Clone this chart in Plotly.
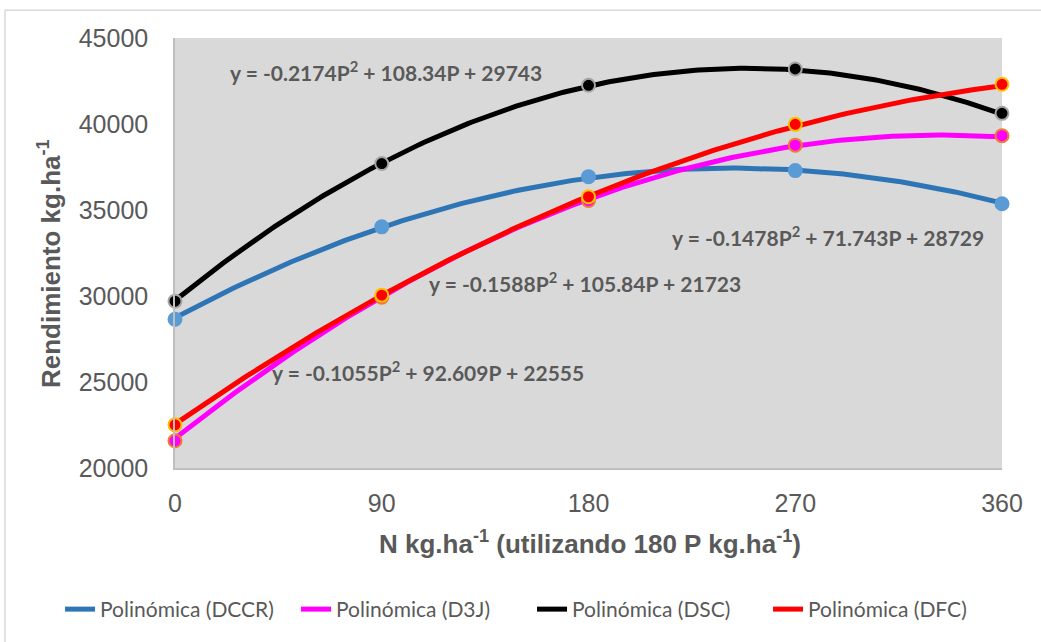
import numpy as np
import plotly.graph_objects as go

# Nitrogen doses (kg/ha), shared x categories
n_doses = [0, 90, 180, 270, 360]
x_ticks = [0, 90, 180, 270, 360]
y_ticks = [20000, 25000, 30000, 35000, 40000, 45000]

# Observed yields (kg/ha) per treatment
yield_dccr = [28650, 34020, 36940, 37290, 35360]
yield_d3j = [21580, 29930, 35550, 38770, 39320]
yield_dsc = [29700, 37700, 42250, 43200, 40620]
yield_dfc = [22510, 30050, 35770, 39980, 42310]

# Second-order trendline coefficients [a, b, c] for y = aP^2 + bP + c
coef_dccr = [-0.1478, 71.743, 28729]
coef_d3j = [-0.1588, 105.84, 21723]
coef_dsc = [-0.2174, 108.34, 29743]
coef_dfc = [-0.1055, 92.609, 22555]

names = ["DCCR", "D3J", "DSC", "DFC"]
yields = [yield_dccr, yield_d3j, yield_dsc, yield_dfc]
coefs = [coef_dccr, coef_d3j, coef_dsc, coef_dfc]
line_colors = ["#2e75b6", "#ff00ff", "#000000", "#ff0000"]
marker_fill = ["#5b9bd5", "#ff00ff", "#000000", "#ff0000"]
marker_edge = ["#5b9bd5", "#ed7d31", "#a5a5a5", "#ffc000"]

# Equation label placement (x, y in data units)
eq_pos = {
    "DSC": (91.9, 43090),
    "DCCR": (284.3, 33484),
    "D3J": (178.5, 30822),
    "DFC": (110.1, 25613),
}

fig = go.Figure()

p = np.linspace(0, 360, 241)
for name, cf, col in zip(names, coefs, line_colors):
    fig.add_trace(go.Scatter(
        x=p, y=np.polyval(cf, p), mode="lines",
        line=dict(color=col, width=5),
        name=f"Polinómica ({name})", showlegend=True,
        hoverinfo="skip",
    ))

for name, ys, fc, ec in zip(names, yields, marker_fill, marker_edge):
    fig.add_trace(go.Scatter(
        x=n_doses, y=ys, mode="markers",
        marker=dict(size=13, color=fc, line=dict(color=ec, width=2)),
        name=name, showlegend=False, cliponaxis=False,
    ))


def fmt_eq(cf):
    a, b, c = cf
    return f"y = {a:g}P<sup>2</sup> + {b:g}P + {c:g}"


for name, cf in zip(names, coefs):
    x0, y0 = eq_pos[name]
    fig.add_annotation(
        x=x0, y=y0, text=fmt_eq(cf), showarrow=False,
        font=dict(family="Lato", size=21, color="#595959", weight="bold"),
    )

axis_font = dict(family="Liberation Sans, Arial", size=25, color="#595959")
title_font = dict(family="Liberation Sans, Arial", size=26, color="#595959", weight="bold")

fig.update_xaxes(
    range=[0, 360], tickvals=x_ticks, ticktext=[str(v) for v in x_ticks],
    showgrid=False, zeroline=False, showline=True, linecolor="#bfbfbf", linewidth=1.5,
    ticks="outside", ticklen=12, tickcolor="rgba(0,0,0,0)",
    tickfont=axis_font,
)
fig.update_yaxes(
    range=[20000, 45000], tickvals=y_ticks, ticktext=[str(v) for v in y_ticks],
    showgrid=False, zeroline=False, showline=True, linecolor="#bfbfbf", linewidth=1.5,
    ticks="outside", ticklen=20, tickcolor="rgba(0,0,0,0)",
    tickfont=axis_font,
)

# Axis titles
fig.add_annotation(
    xref="paper", yref="paper", x=0.5018, y=-0.1736, showarrow=False,
    text="N kg.ha<sup>-1</sup> (utilizando 180 P kg.ha<sup>-1</sup>)",
    font=title_font, xanchor="center", yanchor="middle",
)
fig.add_annotation(
    xref="paper", yref="paper", x=-0.151, y=0.4745, showarrow=False,
    text="Rendimiento kg.ha<sup>-1</sup>", textangle=-90,
    font=title_font, xanchor="center", yanchor="middle",
)

# Chart frame
fig.add_shape(type="rect", xref="paper", yref="paper",
              x0=-0.2056, x1=1.2, y0=-0.6, y1=1.0648,
              line=dict(color="#d9d9d9", width=1.5), fillcolor="rgba(0,0,0,0)",
              layer="below")

fig.update_layout(
    width=1041, height=642,
    margin=dict(l=175, r=39, t=38, b=172),
    plot_bgcolor="#d9d9d9", paper_bgcolor="#ffffff",
    showlegend=True,
    legend=dict(
        orientation="h", x=-0.139, xanchor="left", y=-0.329, yanchor="middle",
        font=dict(family="Lato", size=21, color="#595959"),
        entrywidth=191, entrywidthmode="pixels",
        bgcolor="rgba(0,0,0,0)",
    ),
)

fig.write_html("out.html")
